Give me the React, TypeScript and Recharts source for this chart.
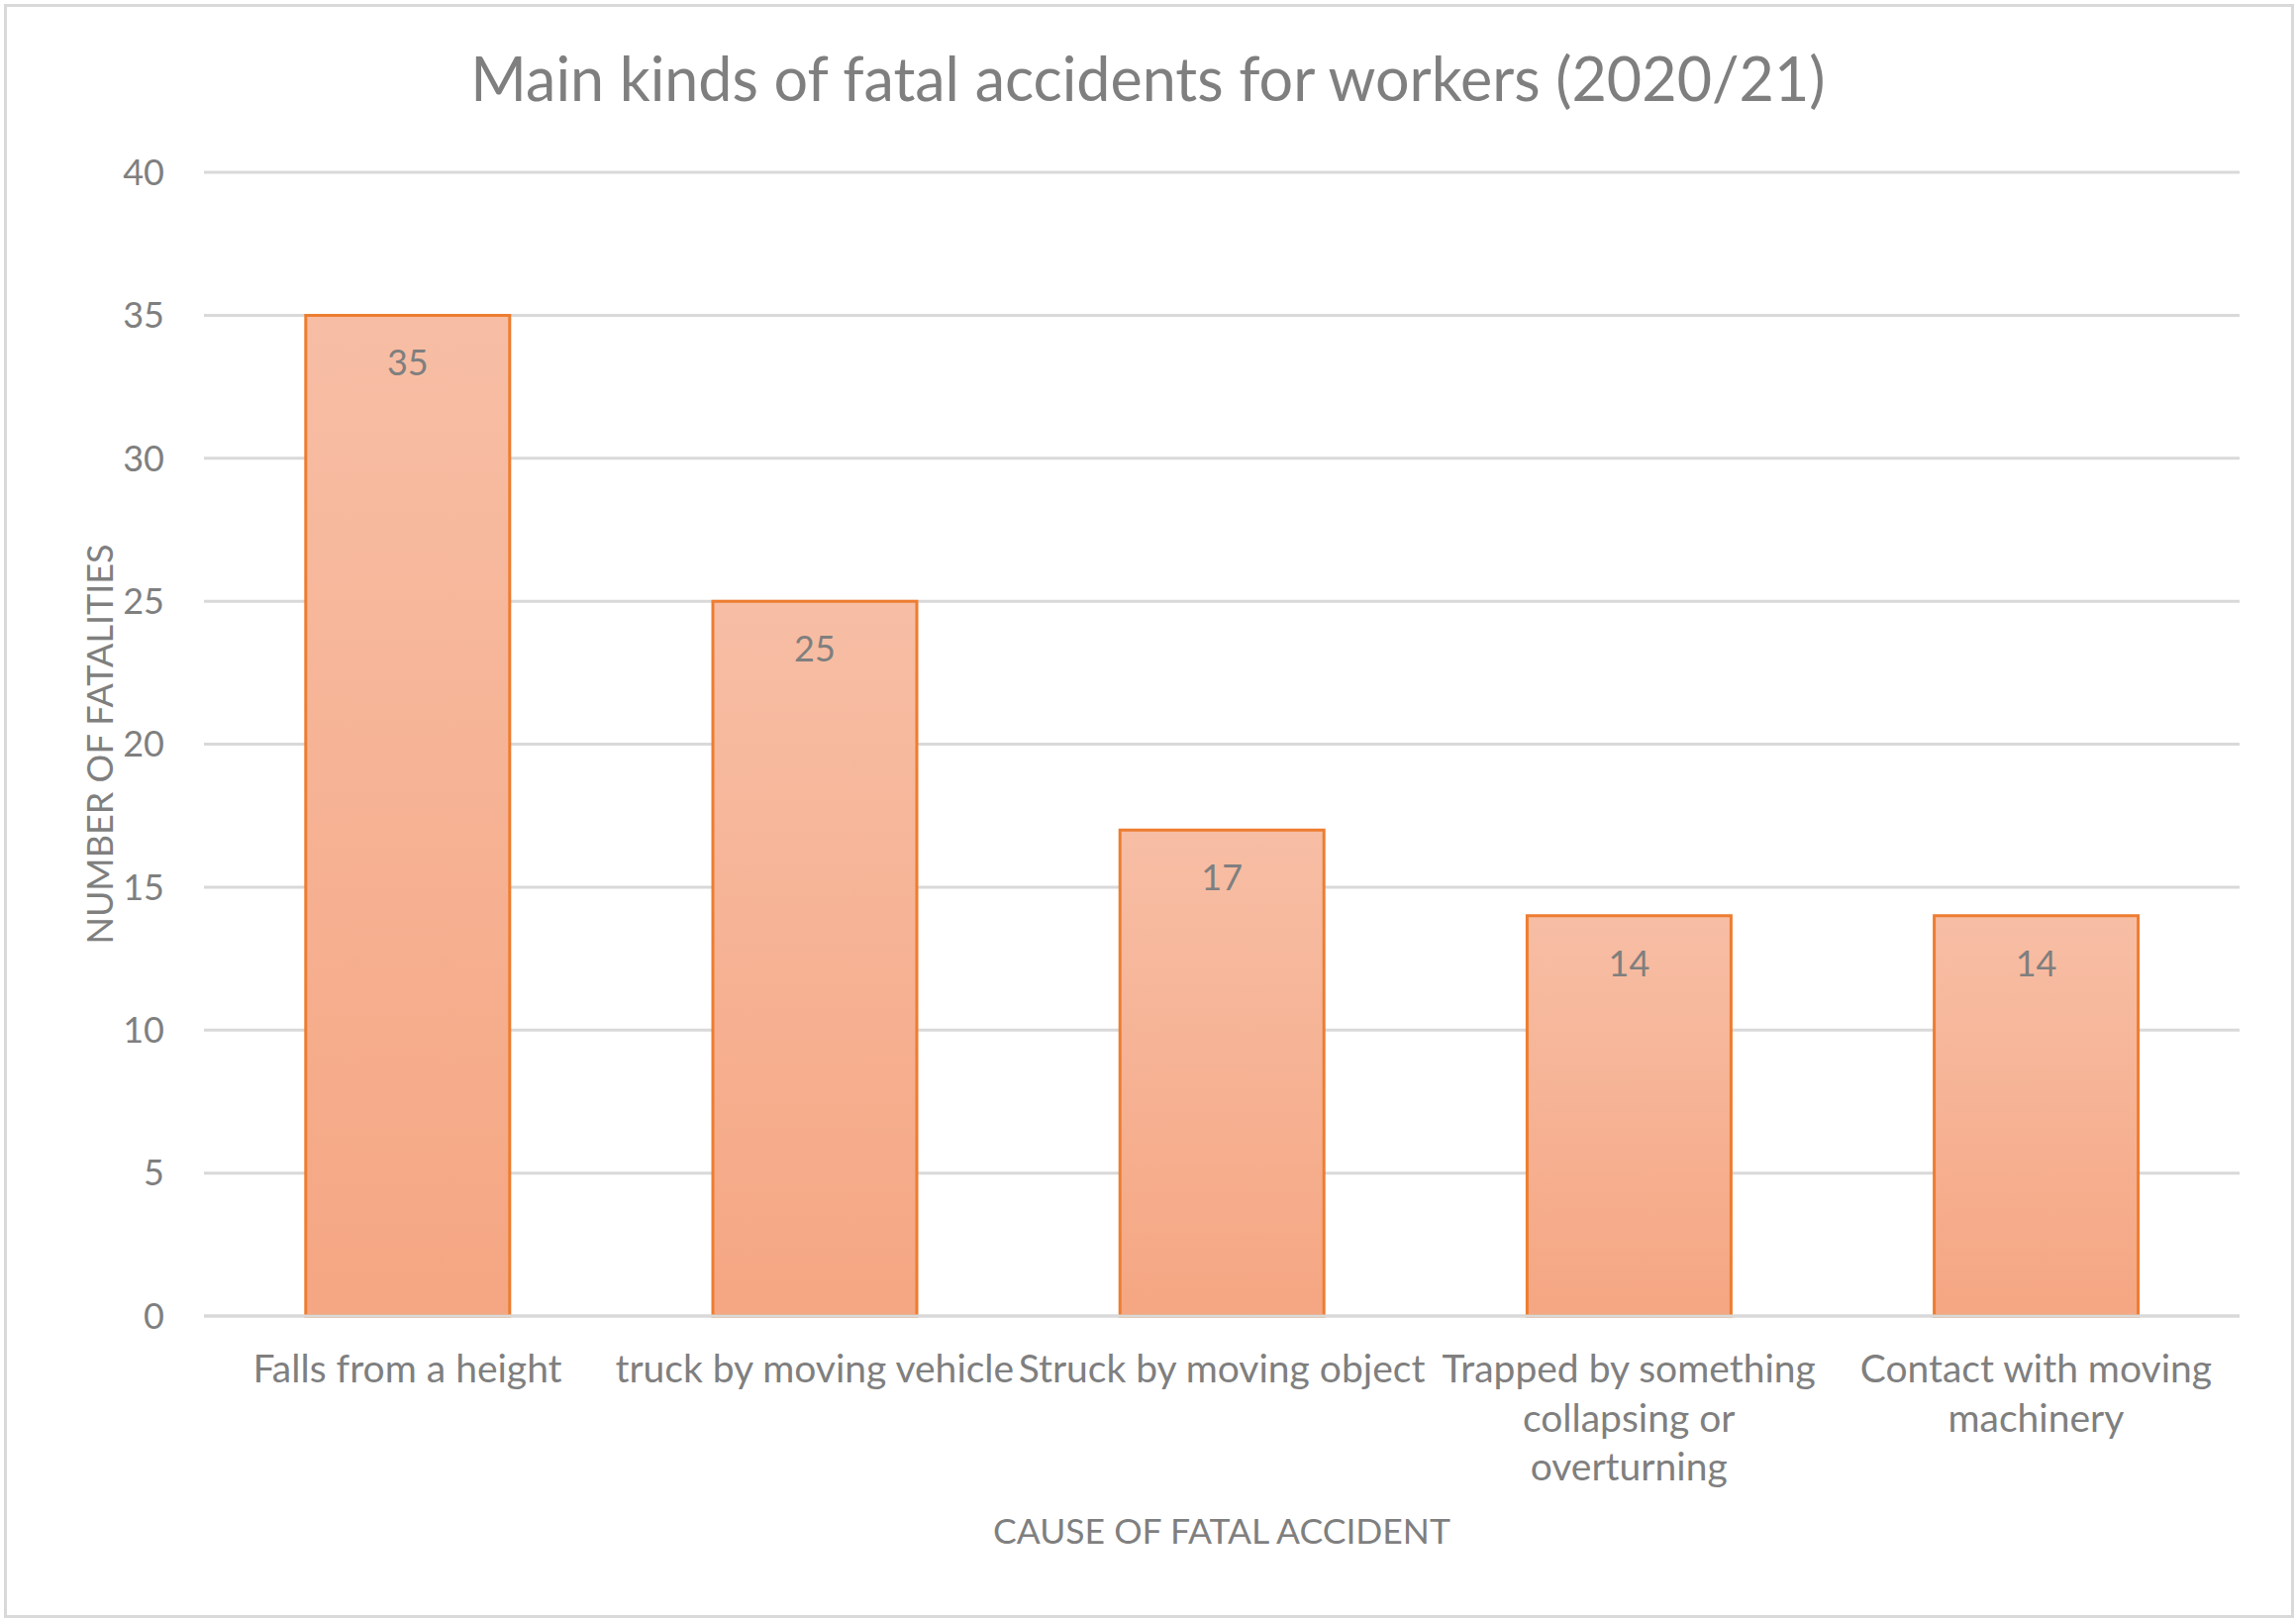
import { Bar, BarChart, CartesianGrid, LabelList, XAxis, YAxis } from "recharts";

const causes = [
  "Falls from a height",
  "truck by moving vehicle",
  "Struck by moving object",
  "Trapped by something collapsing or overturning",
  "Contact with moving machinery",
];
const fatalities = [35, 25, 17, 14, 14];
const yTicks = [0, 5, 10, 15, 20, 25, 30, 35, 40];

const chartTitle = "Main kinds of fatal accidents for workers (2020/21)";
const yTitle = "NUMBER OF FATALITIES";
const xTitle = "CAUSE OF FATAL ACCIDENT";

const data = causes.map((cause, i) => ({ cause, fatalities: fatalities[i] }));

const FONT = "Lato, 'Open Sans', sans-serif";
const GREY = "#7f7f7f";
const GRID = "#d9d9d9";

// greedy word wrap, roughly what fits in one category band
function wrapLabel(label: string, maxChars = 23) {
  const lines: string[] = [];
  let line = "";
  for (const word of label.split(" ")) {
    const next = line ? `${line} ${word}` : word;
    if (next.length > maxChars && line) {
      lines.push(line);
      line = word;
    } else {
      line = next;
    }
  }
  if (line) lines.push(line);
  return lines;
}

function CauseTick({ x, y, payload }: any) {
  const lines = wrapLabel(String(payload.value));
  return (
    <text x={x} y={y + 67} textAnchor="middle" fill={GREY} style={{ fontFamily: FONT, fontSize: 39 }}>
      {lines.map((line, i) => (
        <tspan key={i} x={x} dy={i === 0 ? 0 : 49.6}>
          {line}
        </tspan>
      ))}
    </text>
  );
}

function ValueLabel(props: any) {
  const { x, y, width, value } = props;
  return (
    <text x={x + width / 2} y={y + 61} textAnchor="middle" fill={GREY} style={{ fontFamily: FONT, fontSize: 36 }}>
      {value}
    </text>
  );
}

function YTitle({ viewBox }: any) {
  const cx = viewBox.x + 100;
  const cy = viewBox.y + viewBox.height / 2;
  return (
    <text
      x={cx}
      y={cy}
      transform={`rotate(-90 ${cx} ${cy})`}
      textAnchor="middle"
      dominantBaseline="central"
      fill={GREY}
      style={{ fontFamily: FONT, fontSize: 36 }}
    >
      {yTitle}
    </text>
  );
}

function XTitle({ viewBox }: any) {
  return (
    <text
      x={viewBox.x + viewBox.width / 2}
      y={viewBox.y + 230}
      textAnchor="middle"
      fill={GREY}
      style={{ fontFamily: FONT, fontSize: 35.5 }}
    >
      {xTitle}
    </text>
  );
}

export default function App() {
  return (
    <div style={{ position: "absolute", left: 0, top: 0, width: 2319, height: 1636, background: "#fff" }}>
      <div
        style={{
          position: "absolute",
          left: 4,
          top: 4,
          width: 2307,
          height: 1624,
          border: `3px solid ${GRID}`,
        }}
      />
      <div
        style={{
          position: "absolute",
          left: 0,
          top: 48,
          width: 2319,
          textAlign: "center",
          fontFamily: FONT,
          fontSize: 61,
          lineHeight: "61px",
          color: GREY,
        }}
      >
        {chartTitle}
      </div>
      <div style={{ position: "absolute", left: 0, top: 0 }}>
        <svg width={0} height={0} style={{ position: "absolute" }}>
          <defs>
            <linearGradient id="barFill" x1="0" y1="0" x2="0" y2="1">
              <stop offset="0%" stopColor="#f7bea5" />
              <stop offset="100%" stopColor="#f5a682" />
            </linearGradient>
          </defs>
        </svg>
        <BarChart
          width={2319}
          height={1636}
          data={data}
          margin={{ top: 174, right: 57, bottom: 0, left: 0 }}
          barCategoryGap="25%"
        >
          <CartesianGrid vertical={false} stroke={GRID} strokeWidth={3} />
          <XAxis
            dataKey="cause"
            height={307}
            interval={0}
            tickLine={false}
            tickSize={0}
            tickMargin={0}
            axisLine={{ stroke: GRID, strokeWidth: 3 }}
            tick={<CauseTick />}
            label={<XTitle />}
          />
          <YAxis
            width={206}
            domain={[0, 40]}
            ticks={yTicks}
            axisLine={false}
            tickLine={false}
            tickSize={0}
            tickMargin={40}
            tick={{ fill: GREY, fontFamily: FONT, fontSize: 36 }}
            label={<YTitle />}
          />
          <Bar dataKey="fatalities" fill="url(#barFill)" stroke="#ed7d31" strokeWidth={3} isAnimationActive={false}>
            <LabelList dataKey="fatalities" content={(p: any) => <ValueLabel {...p} />} />
          </Bar>
        </BarChart>
      </div>
    </div>
  );
}
